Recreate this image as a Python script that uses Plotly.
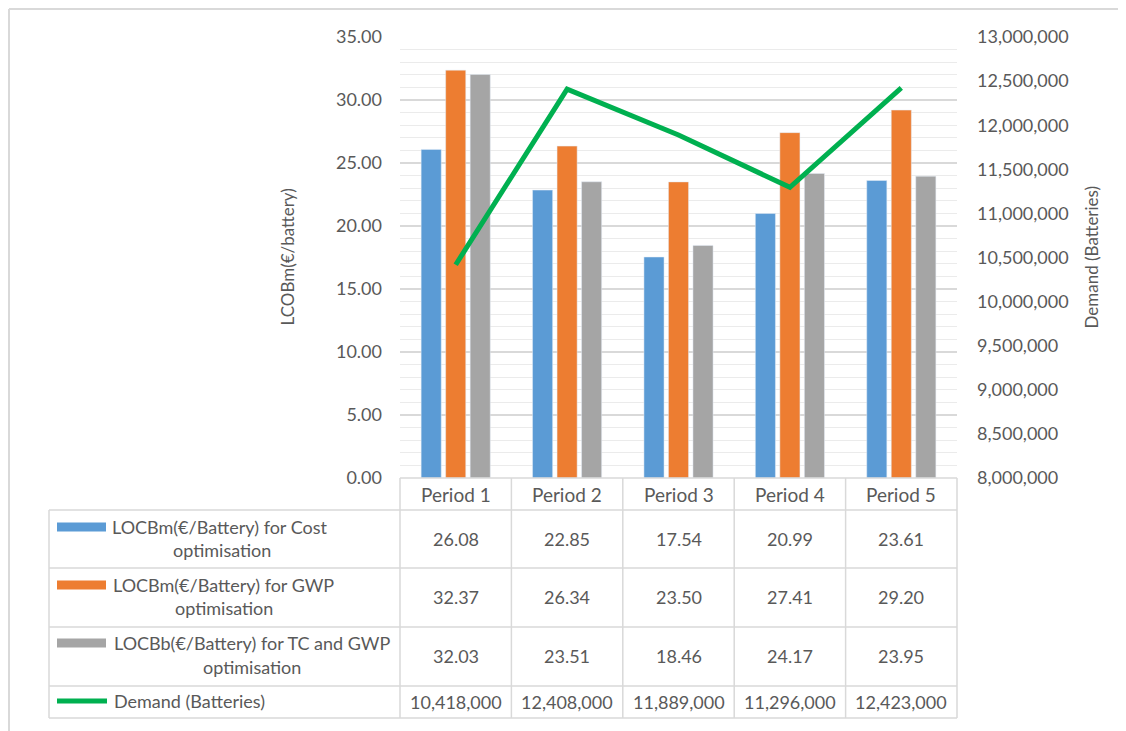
import plotly.graph_objects as go

periods = ["Period 1", "Period 2", "Period 3", "Period 4", "Period 5"]
cost_opt = [26.08, 22.85, 17.54, 20.99, 23.61]
gwp_opt = [32.37, 26.34, 23.50, 27.41, 29.20]
tc_gwp_opt = [32.03, 23.51, 18.46, 24.17, 23.95]
demand = [10418000, 12408000, 11889000, 11296000, 12423000]

series_names = [
    ["LOCBm(€/Battery) for Cost", "optimisation"],
    ["LOCBm(€/Battery) for GWP", "optimisation"],
    ["LOCBb(€/Battery) for TC and GWP", "optimisation"],
]
demand_name = "Demand (Batteries)"

BLUE, ORANGE, GRAY, GREEN = "#5B9BD5", "#ED7D31", "#A5A5A5", "#00B050"
TXT = "#595959"
GRID = "#D9D9D9"
FONT = "Lato"
FN = 18   # numbers
FT = 19   # header labels
FL = 18   # legend labels

OFF = 8  # page body margin
W, H = 1126, 731
L, R, T, B = 400 - OFF, 957 - OFF, 37 - OFF, 478 - OFF


def xp(px):
    return (px - OFF - L) / (R - L)


def yp(py):
    return (B - (py - OFF)) / (B - T)


fig = go.Figure()
for vals, col, nm in zip([cost_opt, gwp_opt, tc_gwp_opt], [BLUE, ORANGE, GRAY], series_names):
    fig.add_trace(go.Bar(x=periods, y=vals, marker_color=col, name=" ".join(nm), yaxis="y"))
fig.add_trace(go.Scatter(x=periods, y=demand, mode="lines", line=dict(color=GREEN, width=5),
                         name=demand_name, yaxis="y2"))

shapes = []
annotations = []


def hline(y, x0, x1, color=GRID, width=1.5):
    shapes.append(dict(type="line", xref="paper", yref="paper", x0=xp(x0), x1=xp(x1),
                       y0=yp(y), y1=yp(y), line=dict(color=color, width=width)))


def vline(x, y0, y1, color=GRID, width=1.5):
    shapes.append(dict(type="line", xref="paper", yref="paper", x0=xp(x), x1=xp(x),
                       y0=yp(y0), y1=yp(y1), line=dict(color=color, width=width)))


# outer chart border (at the figure's top/left edge)
hline(OFF + 1, OFF + 1, 1126 + OFF, width=2)
vline(OFF + 1, OFF + 1, 731 + OFF, width=2)

# data table grid
rows_y = [478, 510, 568, 627, 686, 718]
hline(478, 400, 957)
for y in rows_y[1:]:
    hline(y, 49, 957)
vline(49, 510, 718)
n = len(periods)
for i in range(n + 1):
    px = 400 + (957 - 400) * i / n
    vline(px, 478, 718)

# header
for p in periods:
    annotations.append(dict(x=p, y=yp(494), xref="x", yref="paper", text=p, showarrow=False,
                            font=dict(family=FONT, size=FT, color=TXT), xanchor="center", yanchor="middle"))

# values
row_centers = [539, 597, 656, 702]
all_vals = [cost_opt, gwp_opt, tc_gwp_opt]
for r, vals in enumerate(all_vals):
    for p, v in zip(periods, vals):
        annotations.append(dict(x=p, y=yp(row_centers[r]), xref="x", yref="paper", text=f"{v:.2f}",
                                showarrow=False, font=dict(family=FONT, size=FN, color=TXT),
                                xanchor="center", yanchor="middle"))
for p, v in zip(periods, demand):
    annotations.append(dict(x=p, y=yp(row_centers[3]), xref="x", yref="paper", text=f"{v:,}",
                            showarrow=False, font=dict(family=FONT, size=FN, color=TXT),
                            xanchor="center", yanchor="middle"))

# legend column
leg_lines = [(527, 550), (585, 608), (643, 667)]
leg_x0 = [110, 111, 112]
leg_cx = [222, 224, 252]
for (y1, y2), x0, cx, nm, col in zip(leg_lines, leg_x0, leg_cx, series_names, [BLUE, ORANGE, GRAY]):
    annotations.append(dict(x=xp(x0), y=yp(y1), xref="paper", yref="paper", text=nm[0], showarrow=False,
                            font=dict(family=FONT, size=FL, color=TXT), xanchor="left", yanchor="middle"))
    annotations.append(dict(x=xp(cx), y=yp(y2), xref="paper", yref="paper", text=nm[1], showarrow=False,
                            font=dict(family=FONT, size=FL, color=TXT), xanchor="center", yanchor="middle"))
    shapes.append(dict(type="rect", xref="paper", yref="paper", x0=xp(57), x1=xp(106),
                       y0=yp(y1 - 4.5), y1=yp(y1 + 4.5), line=dict(width=0), fillcolor=col))
shapes.append(dict(type="line", xref="paper", yref="paper", x0=xp(57), x1=xp(107),
                   y0=yp(701), y1=yp(701), line=dict(color=GREEN, width=5)))
annotations.append(dict(x=xp(112), y=yp(701), xref="paper", yref="paper", text=demand_name, showarrow=False,
                        font=dict(family=FONT, size=FL, color=TXT), xanchor="left", yanchor="middle"))

# axis titles
annotations.append(dict(x=xp(287), y=0.5, xref="paper", yref="paper", text="LCOBm(€/battery)", textangle=-90,
                        showarrow=False, font=dict(family=FONT, size=17, color=TXT),
                        xanchor="center", yanchor="middle"))
annotations.append(dict(x=xp(1091), y=0.5, xref="paper", yref="paper", text="Demand (Batteries)", textangle=-90,
                        showarrow=False, font=dict(family=FONT, size=17, color=TXT),
                        xanchor="center", yanchor="middle"))

fig.update_layout(
    width=W, height=H,
    margin=dict(l=L, r=W - R, t=T, b=H - B, pad=0),
    paper_bgcolor="white", plot_bgcolor="white",
    barmode="group", bargap=0.34, bargroupgap=0.18,
    showlegend=False,
    font=dict(family=FONT, size=FN, color=TXT),
    xaxis=dict(type="category", range=[-0.5, 4.5], showticklabels=False, showgrid=False,
               zeroline=False, showline=False, fixedrange=True),
    yaxis=dict(range=[0, 35], dtick=5, tickformat=".2f", showgrid=True, gridcolor=GRID, gridwidth=1.5,
               minor=dict(dtick=1, showgrid=True, gridcolor="#EBEBEB", gridwidth=1),
               zeroline=False, showline=False, ticks="", ticklabelstandoff=17,
               tickfont=dict(family=FONT, size=FN, color=TXT)),
    yaxis2=dict(range=[8000000, 13000000], dtick=500000, tickformat=",", overlaying="y", side="right",
                showgrid=False, zeroline=False, showline=False, ticks="", ticklabelstandoff=19,
                tickfont=dict(family=FONT, size=FN, color=TXT)),
    shapes=shapes,
    annotations=annotations,
)

fig.write_html("out.html")
